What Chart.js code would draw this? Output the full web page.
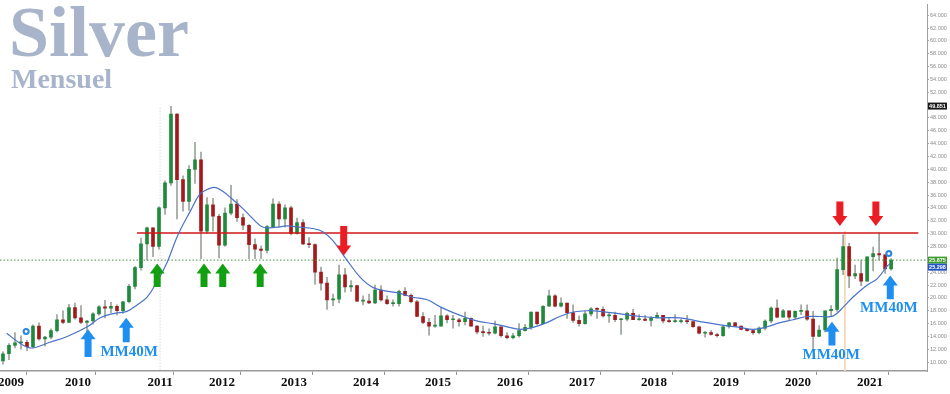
<!DOCTYPE html>
<html>
<head>
<meta charset="utf-8">
<script src="https://cdn.jsdelivr.net/npm/chart.js@4.4.1/dist/chart.umd.min.js"></script>
<style>
  html, body { margin: 0; padding: 0; background: #fff; }
  #wrap { width: 950px; height: 394px; }
</style>
</head>
<body>
<div id="wrap"><canvas id="myChart" width="950" height="394"></canvas></div>
<script>
// monthly candles, Dec 2008 -> Apr 2021
const firstMonth = 2008 + 11 / 12;

const opens = [
  10.2,
  11.3, 12.6, 13.0, 13.1, 12.4, 15.6, 13.6, 13.9, 14.9, 16.6, 16.2, 18.5,
  16.9, 16.2, 16.4, 17.5, 18.6, 18.4, 18.7, 18.0, 19.4, 21.8, 24.7, 28.4,
  30.9, 28.0, 34.0, 37.9, 48.6, 38.4, 35.0, 40.0, 41.5, 30.4, 34.5, 32.7,
  28.2, 33.2, 34.6, 32.5, 31.3, 28.3, 27.6, 27.4, 31.1, 34.6, 32.3, 34.0,
  30.0, 31.7, 28.4, 28.3, 24.0, 22.3, 19.7, 19.8, 23.6, 21.7, 21.9, 19.5,
  19.5, 19.2, 21.2, 19.7, 19.1, 19.1, 21.0, 20.4, 19.4, 17.1, 16.2, 15.6,
  15.6, 17.2, 16.6, 16.6, 16.3, 16.8, 15.6, 14.7, 14.6, 14.5, 15.5, 14.1,
  13.8, 14.1, 14.9, 15.4, 17.8, 16.0, 18.7, 20.3, 18.7, 19.2, 17.7, 16.5,
  16.0, 17.5, 18.3, 18.2, 17.2, 17.3, 16.6, 16.7, 17.6, 16.6, 16.7, 16.5,
  16.9, 17.3, 16.4, 16.3, 16.3, 16.4, 16.3, 15.5, 14.5, 14.6, 14.3, 14.1,
  15.5, 16.1, 15.6, 15.1, 14.9, 14.6, 15.3, 16.4, 18.4, 17.0, 18.0, 17.0,
  17.9, 18.0, 16.7, 14.0, 15.0, 18.0, 18.2, 24.4, 28.0, 23.4, 23.8, 22.6,
  26.4, 26.9, 26.7, 24.5
];
const highs = [
  11.6,
  12.9, 14.6, 14.1, 13.4, 15.8, 16.1, 14.0, 15.2, 17.4, 18.0, 19.0, 19.2,
  18.8, 16.5, 17.7, 18.8, 19.6, 19.3, 18.9, 19.5, 22.1, 24.9, 29.3, 31.0,
  30.9, 34.2, 38.2, 49.8, 48.7, 39.0, 40.6, 44.2, 42.7, 35.6, 35.5, 33.0,
  34.0, 37.5, 35.3, 33.1, 31.4, 29.2, 28.1, 31.3, 35.4, 35.0, 34.5, 34.3,
  32.4, 32.2, 29.4, 28.4, 24.8, 23.2, 20.6, 25.1, 24.6, 22.7, 22.0, 20.3,
  20.6, 22.0, 21.9, 20.3, 19.7, 21.2, 21.6, 20.6, 19.6, 17.7, 16.8, 17.3,
  18.5, 17.4, 17.3, 16.8, 17.8, 16.9, 15.7, 15.6, 15.2, 16.4, 15.5, 14.6,
  14.5, 16.0, 15.9, 17.8, 17.8, 18.8, 21.2, 20.5, 20.0, 19.2, 18.9, 17.2,
  17.9, 18.5, 18.5, 18.6, 17.6, 17.8, 16.8, 17.8, 18.2, 17.4, 17.3, 17.1,
  17.7, 17.3, 16.8, 17.4, 16.7, 17.3, 16.3, 15.6, 14.8, 14.9, 14.5, 15.6,
  16.2, 16.2, 15.6, 15.2, 15.0, 15.5, 16.6, 18.6, 19.7, 18.2, 18.0, 18.0,
  18.9, 18.9, 17.9, 15.7, 18.0, 18.8, 26.2, 29.8, 28.5, 25.1, 25.9, 26.4,
  27.9, 30.1, 26.7, 26.1
];
const lows = [
  9.7,
  10.4, 12.2, 12.0, 11.8, 12.2, 13.4, 12.5, 13.6, 14.7, 16.0, 16.2, 16.7,
  16.0, 14.7, 15.9, 17.3, 16.9, 17.7, 17.3, 17.6, 19.2, 21.4, 24.3, 25.9,
  26.4, 27.6, 33.0, 37.5, 32.3, 33.5, 33.6, 37.8, 26.1, 30.0, 30.4, 26.2,
  28.0, 32.9, 31.9, 30.6, 26.1, 26.1, 26.1, 27.0, 31.0, 31.1, 31.0, 29.8,
  29.9, 28.3, 27.8, 22.1, 21.2, 18.2, 18.8, 19.2, 20.9, 21.0, 19.4, 18.9,
  19.1, 19.1, 19.5, 19.0, 18.7, 18.7, 20.3, 19.2, 17.1, 16.0, 14.2, 15.4,
  15.6, 16.1, 15.3, 15.6, 15.8, 15.6, 14.4, 14.0, 14.2, 14.4, 13.9, 13.6,
  13.6, 13.9, 14.8, 15.1, 15.8, 15.9, 18.7, 18.6, 18.6, 16.8, 16.2, 15.6,
  15.9, 17.2, 16.8, 17.0, 16.2, 16.3, 14.3, 16.4, 16.6, 16.5, 16.4, 15.6,
  16.9, 16.1, 16.2, 16.2, 16.1, 16.0, 15.4, 14.4, 13.9, 14.2, 13.9, 14.0,
  15.3, 15.6, 15.0, 14.8, 14.3, 14.4, 15.0, 16.1, 16.9, 17.0, 16.6, 16.8,
  17.4, 16.5, 11.6, 14.0, 14.7, 17.1, 17.9, 23.6, 21.6, 23.0, 21.9, 22.6,
  24.2, 25.9, 23.8, 24.3
];
const closes = [
  11.3,
  12.6, 13.0, 13.1, 12.4, 15.6, 13.6, 13.9, 14.9, 16.6, 16.2, 18.5, 16.9,
  16.2, 16.4, 17.5, 18.6, 18.4, 18.7, 18.0, 19.4, 21.8, 24.7, 28.4, 30.9,
  28.0, 34.0, 37.9, 48.6, 38.4, 35.0, 40.0, 41.5, 30.4, 34.5, 32.7, 28.2,
  33.2, 34.6, 32.5, 31.3, 28.3, 27.6, 27.4, 31.1, 34.6, 32.3, 34.0, 30.0,
  31.7, 28.4, 28.3, 24.0, 22.3, 19.7, 19.8, 23.6, 21.7, 21.9, 19.5, 19.5,
  19.2, 21.2, 19.7, 19.1, 19.1, 21.0, 20.4, 19.4, 17.1, 16.2, 15.6, 15.6,
  17.2, 16.6, 16.6, 16.3, 16.8, 15.6, 14.7, 14.6, 14.5, 15.5, 14.1, 13.8,
  14.1, 14.9, 15.4, 17.8, 16.0, 18.7, 20.3, 18.7, 19.2, 17.7, 16.5, 16.0,
  17.5, 18.3, 18.2, 17.2, 17.3, 16.6, 16.7, 17.6, 16.6, 16.7, 16.5, 16.9,
  17.3, 16.4, 16.3, 16.3, 16.4, 16.3, 15.5, 14.5, 14.6, 14.3, 14.1, 15.5,
  16.1, 15.6, 15.1, 14.9, 14.6, 15.3, 16.4, 18.4, 17.0, 18.0, 17.0, 17.9,
  18.0, 16.7, 14.0, 15.0, 18.0, 18.2, 24.4, 28.0, 23.4, 23.8, 22.6, 26.4,
  26.9, 26.7, 24.5, 25.875
];

// MM40 (blue line)
const maYears = [
  2009.01, 2009.20, 2009.36, 2009.61, 2009.85, 2010.13, 2010.31, 2010.51, 2010.68, 2010.82,
  2010.96, 2011.10, 2011.24, 2011.38, 2011.56, 2011.69, 2011.80, 2011.90, 2012.01, 2012.15,
  2012.29, 2012.43, 2012.57, 2012.76, 2012.90, 2013.08, 2013.26, 2013.40, 2013.54, 2013.74,
  2013.92, 2014.10, 2014.29, 2014.47, 2014.65, 2014.85, 2015.03, 2015.21, 2015.40, 2015.58,
  2015.76, 2015.96, 2016.14, 2016.32, 2016.51, 2016.69, 2016.88, 2017.07, 2017.25, 2017.53,
  2017.81, 2018.08, 2018.36, 2018.64, 2018.92, 2019.19, 2019.38, 2019.57, 2019.75, 2019.93,
  2020.12, 2020.31, 2020.49, 2020.63, 2020.76, 2020.96, 2021.10, 2021.24, 2021.28
];
const maValues = [
  14.5, 12.9, 12.2, 13.1, 14.0, 15.5, 16.9, 17.6, 17.9, 18.9,
  20.1, 22.6, 25.6, 29.6, 33.5, 36.1, 36.9, 37.2, 36.6, 35.3,
  33.9, 32.3, 31.0, 31.0, 31.2, 31.0, 30.8, 30.3, 28.9, 25.8,
  23.2, 21.6, 21.05, 20.7, 20.1, 19.7, 18.6, 17.7, 16.9, 16.3,
  16.0, 15.5, 15.1, 15.4, 16.15, 17.1, 17.8, 18.0, 17.9, 17.5,
  17.1, 16.9, 16.9, 16.3, 15.8, 15.4, 15.1, 15.5, 16.15, 16.6,
  17.1, 17.1, 17.2, 18.6, 20.1, 22.0, 23.0, 25.0, 25.3
];

const resistance = 30.1;
const lastPrice = 25.875;
const lastMA = 25.298;
const allTimeHigh = 49.851;

const yearLabels = ["2009", "2010", "2011", "2012", "2013", "2014", "2015", "2016", "2017", "2018", "2019", "2020", "2021"];
const yearLabelPos = [2009.07, 2010, 2011.14, 2012, 2013, 2014, 2015, 2016, 2017, 2018, 2019, 2020, 2021];
const halfYearMarks = [2009.5, 2010.5, 2011.5, 2012.5, 2013.5, 2014.5, 2015.5, 2016.5, 2017.5, 2018.5, 2019.5, 2020.5, 2021.5];
const yTicks = [10, 12, 14, 16, 18, 20, 22, 24, 26, 28, 30, 32, 34, 36, 38, 40, 42, 44, 46, 48, 50, 52, 54, 56, 58, 60, 62, 64];

// annotations: arrows [year, tipValue, tailValue]
const greenArrows = [[2011.10, 25.35, 21.7], [2011.75, 25.35, 21.7], [2012.01, 25.35, 21.7], [2012.53, 25.35, 21.7]];
const redArrows = [[2013.69, 26.6, 31.2], [2020.58, 31.2, 35.0], [2021.08, 31.2, 35.0]];
const blueArrows = [[2010.14, 15.1, 10.8], [2010.67, 16.9, 13.1], [2020.47, 16.3, 12.6], [2021.28, 23.5, 19.8]];
const mmLabels = [[2010.71, 11.55], [2020.46, 11.1], [2021.26, 18.45]];
const alerts = [[2009.28, 14.77], [2021.26, 26.9]];

const xMin = 2008.917, xMax = 2021.79;
const yMin = 8.62, yMax = 65.69;

const candleX = opens.map((_, i) => firstMonth + (i + 0.5) / 12);
const wicks = candleX.map((x, i) => ({ x: x, y: [lows[i], highs[i]] }));
const bodies = candleX.map((x, i) => ({ x: x, y: [opens[i], closes[i]] }));
const isUp = i => closes[i] >= opens[i];

const overlay = {
  id: "overlay",
  beforeDatasetsDraw(chart) {
    const ctx = chart.ctx;
    ctx.save();
    ctx.fillStyle = "#a7b4c9";
    ctx.textBaseline = "alphabetic";
    ctx.font = 'bold 72px "Liberation Serif"';
    ctx.fillText("Silver", 9, 56);
    ctx.font = 'bold 28px "Liberation Serif"';
    ctx.fillText("Mensuel", 11, 88);
    ctx.restore();
  },
  afterDatasetsDraw(chart) {
    const ctx = chart.ctx;
    const xs = chart.scales.x, ys = chart.scales.y;
    const arrow = (a, color) => {
      const px = xs.getPixelForValue(a[0]);
      const tip = ys.getPixelForValue(a[1]);
      const tail = ys.getPixelForValue(a[2]);
      const dir = tail > tip ? 1 : -1;
      const head = 10 * dir;
      ctx.fillStyle = color;
      ctx.beginPath();
      ctx.moveTo(px, tip);
      ctx.lineTo(px + 7.5, tip + head);
      ctx.lineTo(px + 3.5, tip + head);
      ctx.lineTo(px + 3.5, tail);
      ctx.lineTo(px - 3.5, tail);
      ctx.lineTo(px - 3.5, tip + head);
      ctx.lineTo(px - 7.5, tip + head);
      ctx.closePath();
      ctx.fill();
    };
    ctx.save();
    greenArrows.forEach(a => arrow(a, "#12a012"));
    redArrows.forEach(a => arrow(a, "#ec1c24"));
    blueArrows.forEach(a => arrow(a, "#1e8ff0"));

    ctx.fillStyle = "#1e8ff0";
    ctx.font = 'bold 15px "Liberation Serif"';
    ctx.textAlign = "center";
    ctx.textBaseline = "middle";
    mmLabels.forEach(m => ctx.fillText("MM40M", xs.getPixelForValue(m[0]), ys.getPixelForValue(m[1])));

    alerts.forEach(p => {
      const px = xs.getPixelForValue(p[0]), py = ys.getPixelForValue(p[1]);
      ctx.fillStyle = "#2a86e0";
      ctx.beginPath(); ctx.arc(px, py, 3.5, 0, Math.PI * 2); ctx.fill();
      ctx.fillStyle = "#fff";
      ctx.beginPath(); ctx.arc(px, py, 1.4, 0, Math.PI * 2); ctx.fill();
    });
    ctx.restore();
  },
  afterDraw(chart) {
    const ctx = chart.ctx;
    const ys = chart.scales.y;
    const left = chart.chartArea.right + 1;
    const box = (v, txt, bg, yy) => {
      ctx.fillStyle = bg;
      ctx.fillRect(left, yy - 3.5, 19, 7);
      ctx.fillStyle = "#fff";
      ctx.fillText(txt, left + 9.5, yy + 0.5);
    };
    ctx.save();
    ctx.font = 'bold 5.5px "Liberation Sans"';
    ctx.textAlign = "center";
    ctx.textBaseline = "middle";
    const gy = ys.getPixelForValue(lastPrice);
    box(allTimeHigh, allTimeHigh.toFixed(3), "#1a1a1a", ys.getPixelForValue(allTimeHigh));
    box(lastPrice, lastPrice.toFixed(3), "#3d9a2e", gy);
    box(lastMA, lastMA.toFixed(3), "#2356c8", Math.max(ys.getPixelForValue(lastMA), gy + 7));
    ctx.restore();
  }
};

const ctx = document.getElementById("myChart").getContext("2d");
const myChart = new Chart(ctx, {
  type: "bar",
  data: {
    datasets: [
      {
        type: "line",
        label: "MM40M",
        data: maYears.map((x, i) => ({ x: x, y: maValues[i] })),
        borderColor: "#4a72c8",
        borderWidth: 1.2,
        pointRadius: 0,
        tension: 0.4,
        order: 0,
      },
      {
        type: "line",
        label: "Résistance",
        data: [{ x: 2010.82, y: resistance }, { x: 2021.67, y: resistance }],
        borderColor: "#d01818",
        borderWidth: 1.3,
        pointRadius: 0,
        order: 1,
      },
      {
        type: "line",
        label: "Dernier",
        data: [{ x: xMin, y: lastPrice }, { x: xMax, y: lastPrice }],
        borderColor: "#3f9a32",
        borderWidth: 1,
        borderDash: [1.5, 2],
        pointRadius: 0,
        order: 1,
      },
      {
        type: "line",
        label: "v1",
        data: [{ x: 2011.14, y: 49.6 }, { x: 2011.14, y: yMin }],
        borderColor: "#c9c9c9",
        borderWidth: 1,
        borderDash: [1, 2],
        pointRadius: 0,
        order: 5,
      },
      {
        type: "line",
        label: "v2",
        data: [{ x: 2020.65, y: 30.4 }, { x: 2020.65, y: yMin }],
        borderColor: "#f6d5b5",
        borderWidth: 1,
        pointRadius: 0,
        order: 5,
      },
      {
        label: "Corps",
        data: bodies,
        backgroundColor: c => (isUp(c.dataIndex) ? "#1f8a3c" : "#a5181c"),
        barThickness: 3,
        minBarLength: 1,
        grouped: false,
        order: 2,
      },
      {
        label: "Mèches",
        data: wicks,
        backgroundColor: "#9aa39a",
        barThickness: 1,
        grouped: false,
        order: 3,
      },
    ],
  },
  options: {
    responsive: false,
    animation: false,
    devicePixelRatio: 1,
    layout: { padding: 0 },
    plugins: {
      legend: { display: false },
      tooltip: { enabled: false },
    },
    scales: {
      x: {
        type: "linear",
        min: xMin,
        max: xMax,
        offset: false,
        afterBuildTicks: s => {
          s.ticks = yearLabelPos.concat(halfYearMarks).sort((a, b) => a - b).map(v => ({ value: v }));
        },
        afterFit: s => {
          s.height = 23;
          s.paddingLeft = 0;
          s.paddingRight = 0;
        },
        ticks: {
          autoSkip: false,
          maxRotation: 0,
          padding: 0,
          color: "#111",
          font: { family: "Liberation Serif", weight: "bold", size: 13 },
          callback: v => {
            const k = yearLabelPos.indexOf(v);
            return k >= 0 ? yearLabels[k] : "";
          },
        },
        grid: {
          drawOnChartArea: false,
          tickLength: 4,
          tickColor: c => (c.tick && halfYearMarks.includes(c.tick.value) ? "#999" : "rgba(0,0,0,0)"),
        },
        border: { display: true, color: "#9a9a9a", width: 1.5 },
      },
      y: {
        position: "right",
        min: yMin,
        max: yMax,
        afterBuildTicks: s => {
          s.ticks = yTicks.map(v => ({ value: v }));
        },
        afterFit: s => {
          s.width = 23;
        },
        ticks: {
          padding: 1,
          color: "#8a8a8a",
          font: { family: "Liberation Sans", size: 5.5 },
          callback: v => Number(v).toFixed(3),
        },
        grid: {
          drawOnChartArea: false,
          tickLength: 2,
          tickColor: "#aaa",
        },
        border: { display: true, color: "#a0a0a0" },
      },
    },
  },
  plugins: [overlay],
});
</script>
</body>
</html>
